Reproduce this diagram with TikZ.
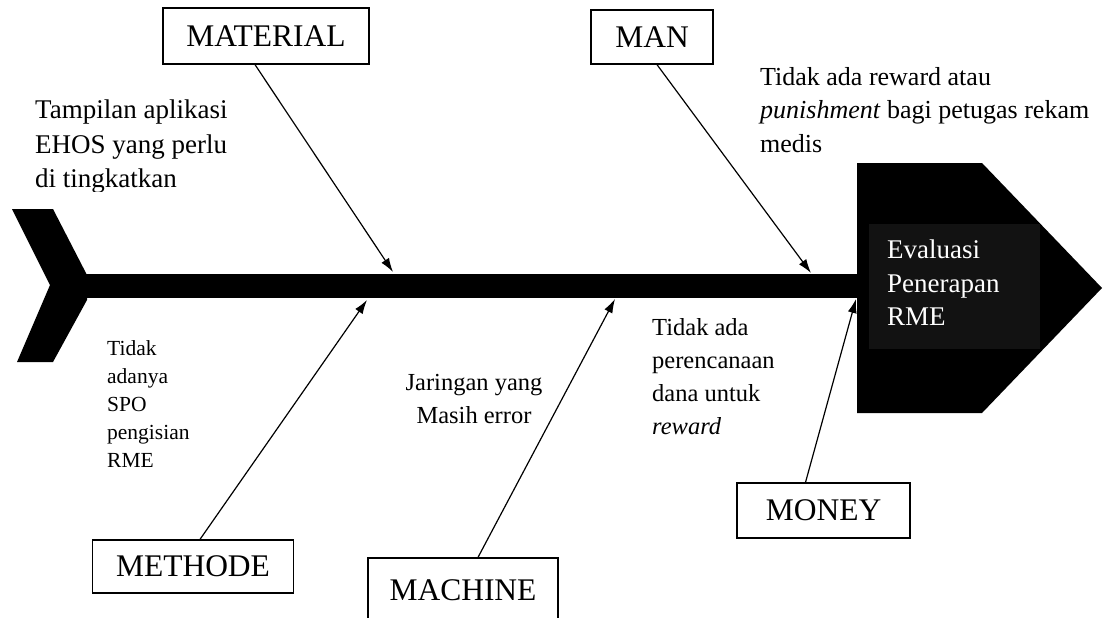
\documentclass[tikz,border=0pt]{standalone}
\usepackage{fontspec}
\setmainfont{Liberation Serif}
\usetikzlibrary{arrows.meta}
\begin{document}
\begin{tikzpicture}[x=1pt,y=-1pt,
  causebox/.style={draw=black,line width=1.3pt,fill=white,inner sep=0pt,
    font=\fontsize{31.5}{36}\selectfont},
  note/.style={anchor=north west,inner sep=0pt,align=left,
    font=\fontsize{26}{33.5}\selectfont},
  smallnote/.style={anchor=north west,inner sep=0pt,align=left,
    font=\fontsize{21.5}{28}\selectfont},
  midnote/.style={anchor=north west,inner sep=0pt,align=left,
    font=\fontsize{24.5}{33}\selectfont},
  bone/.style={line width=1.2pt,-{Latex[length=14pt,width=9pt]}}
]
\useasboundingbox (0,0) rectangle (1105,618);
\clip (0,0) rectangle (1105,618);
\fill[white] (0,0) rectangle (1105,618);

% tail
\fill[black] (12,209) -- (53,209) -- (87,275) -- (87,300) -- (53,362) -- (17,362) -- (50,285) -- cycle;
% spine
\fill[black] (85,274) rectangle (860,298);
% head
\fill[black] (857,163) -- (982,163) -- (1102,288) -- (982,413) -- (857,413) -- cycle;
\node[fill={rgb,255:red,18;green,18;blue,18},minimum width=171pt,minimum height=125pt,inner sep=0pt] (effbox) at (954.5,286.5) {};
\node[note,text=white,font=\fontsize{27}{33.5}\selectfont] (effect) at (887,240) {Evaluasi\\Penerapan\\RME};

% cause boxes
\node[causebox,minimum width=206pt,minimum height=56pt] (mat) at (266,36) {MATERIAL};
\node[causebox,minimum width=122pt,minimum height=54pt] (man) at (652,37) {MAN};
\node[causebox,minimum width=201pt,minimum height=53pt] (met) at (193,566.5) {METHODE};
\node[causebox,minimum width=190pt,minimum height=64pt] (mac) at (463,590) {MACHINE};
\node[causebox,minimum width=173pt,minimum height=55pt] (mon) at (823.5,510.5) {MONEY};

% arrow ends on spine
\coordinate (tmat) at (393,272);
\coordinate (tman) at (811,273);
\coordinate (tmet) at (367,300);
\coordinate (tmac) at (615,299);
\coordinate (tmon) at (856,299);

\draw[bone] ([xshift=-11pt]mat.south) -- (tmat);
\draw[bone] ([xshift=5pt]man.south) -- (tman);
\draw[bone] ([xshift=7pt]met.north) -- (tmet);
\draw[bone] ([xshift=15pt]mac.north) -- (tmac);
\draw[bone] ([xshift=-18pt]mon.north) -- (tmon);

% notes
\node[note] (nman) at (760,67) {Tidak ada reward atau\\\textit{punishment} bagi petugas rekam\\medis};
\begin{scope}
\clip (20,90) rectangle (330,191);
\node[note,font=\fontsize{27}{34.5}\selectfont] (nmat) at (35,100) {Tampilan aplikasi\\EHOS yang perlu\\di tingkatkan};
\end{scope}
\node[smallnote] (nmet) at (107,340) {Tidak\\adanya\\SPO\\pengisian\\RME};
\node[midnote,align=center,anchor=north] (nmac) at (474,374) {Jaringan yang\\Masih error};
\node[midnote] (nmon) at (652,318) {Tidak ada\\perencanaan\\dana untuk\\\textit{reward}};
\end{tikzpicture}
\end{document}
